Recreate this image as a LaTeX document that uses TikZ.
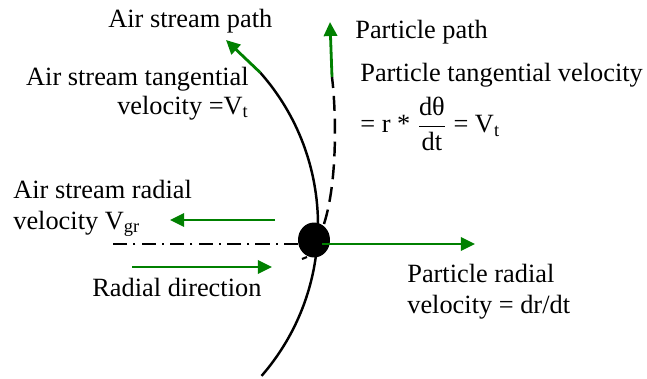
\documentclass[tikz,border=0pt]{standalone}
\usepackage{amsmath}
\usepackage{fontspec}
\setmainfont{Liberation Serif}
\usetikzlibrary{arrows.meta,shapes.geometric}
\definecolor{flowgreen}{RGB}{0,128,0}

\begin{document}
\begin{tikzpicture}[x=0.02cm,y=-0.02cm,
    label text/.style={inner sep=0pt,font=\fontsize{15}{17.5}\selectfont},
    green arrow/.style={draw=flowgreen,line width=1.6pt,-{Triangle[length=8pt,width=7.5pt]}},
    path line/.style={line width=1.4pt},
    particle/.style={ellipse,fill=black,inner sep=0pt,minimum width=0.64cm,minimum height=0.7cm}]

\useasboundingbox (0,0) rectangle (647,379);

% Air stream path
\coordinate (air centre) at (88,225);
\draw[path line] (air centre) ++(-41.5:230) coordinate (air start) arc (-41.5:41:230);
\coordinate (air tip) at (226,40);
\draw[green arrow] (air start) -- (air tip);

% Radial axis
\coordinate (axis end) at (113,244);
\draw[line width=1.4pt,dash pattern=on 8pt off 3.5pt on 1.2pt off 3.5pt] (298,244) -- (axis end);

% Particle
\node[particle] (p) at (314,240) {};
\draw[line width=1.2pt] (302,259) -- (307,257);

% Particle path
\coordinate (pp start) at (324,224);
\coordinate (pp end) at (332,77);
\coordinate (pp tip) at (330,22);
\draw[path line,dash pattern=on 8.5pt off 4.5pt] (pp start) .. controls (338,180) and (336,110) .. (pp end);
\draw[green arrow] (pp end) -- (pp tip);

% Velocity arrows
\coordinate (vgr start) at (275,220);
\coordinate (vgr tip) at (170,220);
\draw[green arrow] (vgr start) -- (vgr tip);
\coordinate (dir start) at (132,267);
\coordinate (dir tip) at (272,267);
\draw[green arrow] (dir start) -- (dir tip);
\coordinate (vr start) at (322,244);
\coordinate (vr tip) at (475,244);
\draw[green arrow] (vr start) -- (vr tip);

% Labels (base of a two-line label is its last line)
\node[label text,anchor=base west] (path air) at (108,27) {Air stream path};
\node[label text,anchor=base east,align=right] (vt air) at (249,114) {Air stream tangential\\[-1.5pt]velocity =V$_\text{t}$};
\node[label text,anchor=base west] (path part) at (355,38) {Particle path};
\node[label text,anchor=base west] (vt part) at (360,81) {Particle tangential velocity};
\node[label text,anchor=west] (vt eq) at (360,124) {= r * $\displaystyle\frac{\text{dθ}}{\text{dt}}$ = V$_\text{t}$};
\node[label text,anchor=base west,align=left] (vgr air) at (13,229) {Air stream radial\\velocity V$_\text{gr}$};
\node[label text,anchor=base west] (dir) at (92,296) {Radial direction};
\node[label text,anchor=base west,align=left] (vr part) at (407,313) {Particle radial\\velocity = dr/dt};

\end{tikzpicture}
\end{document}
